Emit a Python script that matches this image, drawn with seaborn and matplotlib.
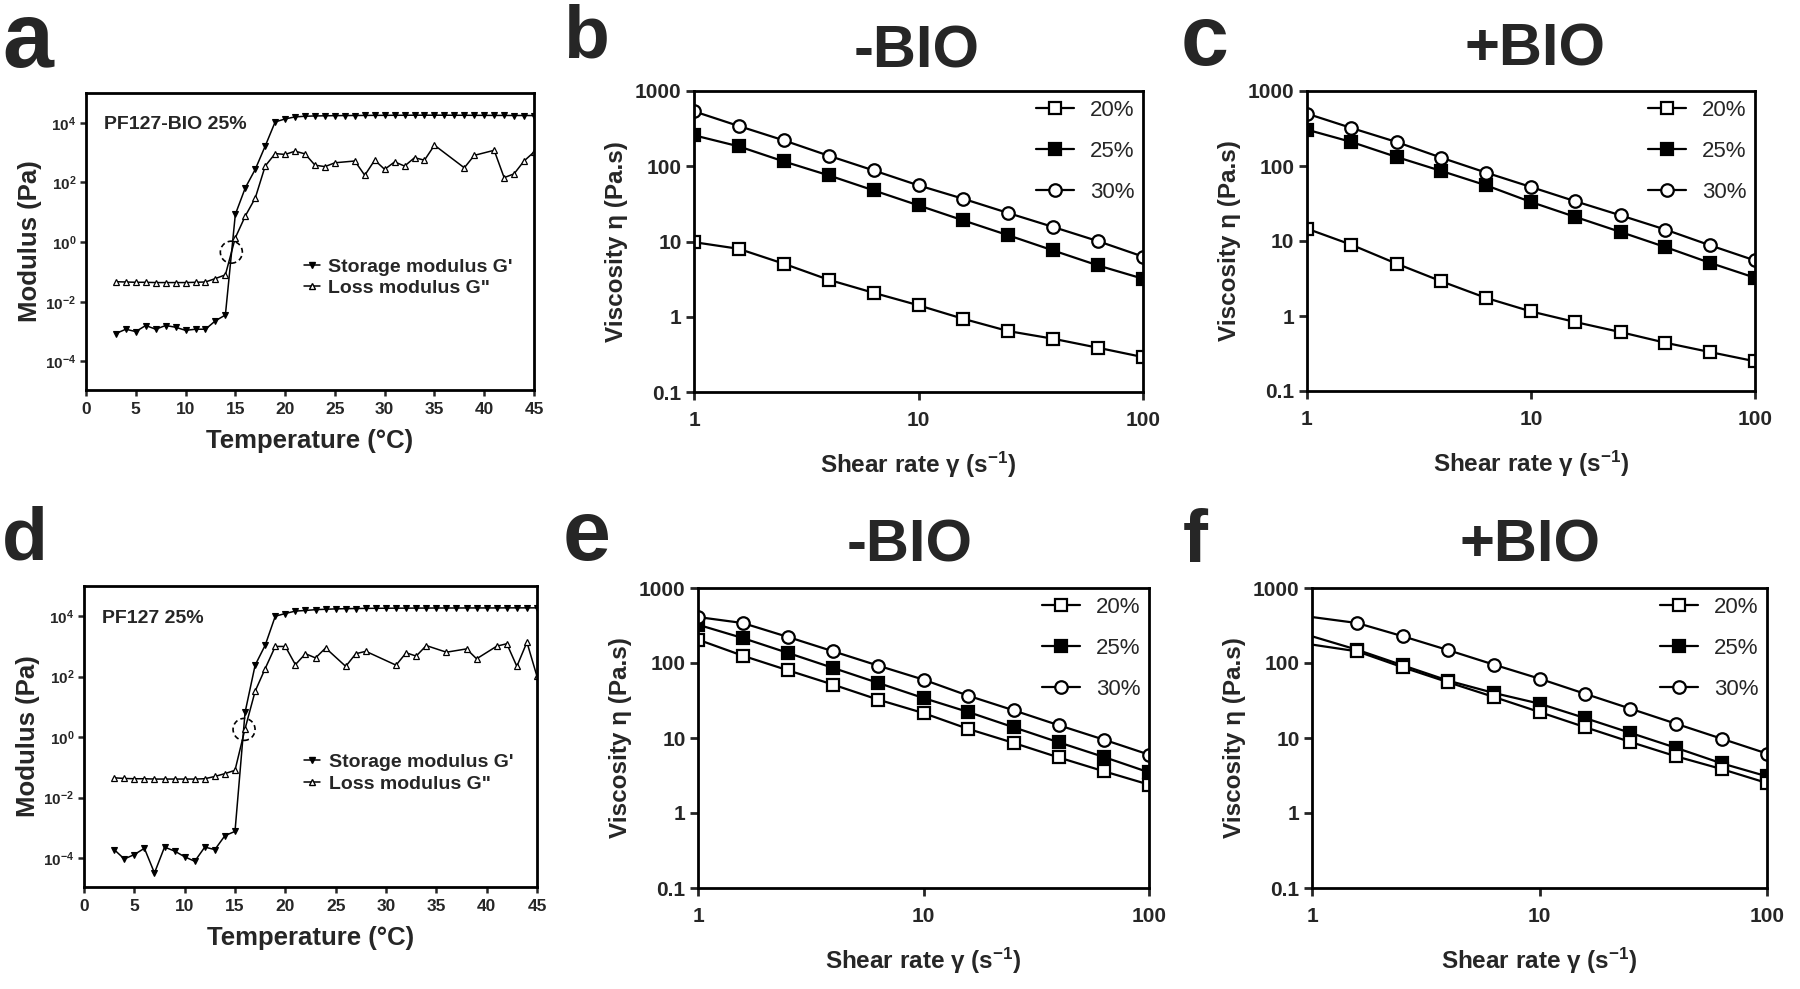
import numpy as np
import matplotlib
matplotlib.use("Agg")
import matplotlib.pyplot as plt
import matplotlib.transforms as mtransforms
from matplotlib.patches import Circle
from matplotlib.lines import Line2D
import seaborn as sns

sns.set_theme(style="ticks")
plt.rcParams["font.family"] = ["Liberation Sans", "DejaVu Sans"]
plt.rcParams["font.weight"] = "bold"
plt.rcParams["mathtext.fontset"] = "custom"
plt.rcParams["mathtext.rm"] = "Liberation Sans"
plt.rcParams["mathtext.bf"] = "Liberation Sans:bold"
plt.rcParams["mathtext.it"] = "Liberation Sans:italic"

# ---------------- data: temperature sweeps (a, d) ----------------
temp_storage = list(range(3, 46))
storage_a = [8.6e-4, 1.2e-3, 1.0e-3, 1.6e-3, 1.2e-3, 1.6e-3, 1.4e-3, 1.1e-3, 1.2e-3, 1.2e-3,
             2.3e-3, 3.6e-3, 8.5, 66, 275, 1660, 10700, 13500, 15800, 16600,
             17000, 17200, 17400, 17500, 17600, 17700, 17800, 17800, 17900, 17900, 18000, 18000,
             18000, 18000, 17900, 17900, 17800, 17800, 17700, 17700, 17600, 17600, 17500]
temp_loss_a = list(range(3, 26)) + list(range(27, 36)) + [38, 39, 41, 42, 43, 44, 45]
loss_a = [0.047, 0.046, 0.045, 0.045, 0.044, 0.044, 0.044, 0.044, 0.045, 0.046,
          0.060, 0.080, 1.4, 7.5, 30, 355, 930, 870, 1120, 910, 380, 340, 457,
          525, 174, 560, 275, 490, 355, 676, 560, 1780,
          310, 810, 1200, 145, 195, 525, 1050]

storage_d = [1.9e-4, 9.3e-5, 1.3e-4, 2.1e-4, 3.2e-5, 2.3e-4, 1.7e-4, 1.1e-4, 7.8e-5, 2.3e-4,
             1.9e-4, 5.5e-4, 7.6e-4, 6.6, 240, 1100, 10000, 12300, 14800, 15500,
             16500, 17000, 17500, 17800, 18000, 18200, 18300, 18400, 18500, 18500, 18600, 18600,
             18700, 18700, 18700, 18800, 18800, 18800, 18800, 18900, 18900, 18900, 18900]
temp_loss_d = list(range(3, 25)) + [26, 27, 28, 31, 32, 33, 34, 36, 38, 39, 41, 42, 43, 44, 45]
loss_d = [0.045, 0.043, 0.042, 0.042, 0.041, 0.041, 0.041, 0.041, 0.041, 0.042,
          0.050, 0.062, 0.080, 1.9, 33, 186, 1000, 1000, 250, 575, 417, 890,
          219, 575, 690, 240, 617, 480, 1070, 645, 830, 390, 1020, 1230, 219, 1380, 102]

crossover_a = (14.6, 0.46)
crossover_d = (15.9, 1.8)

# ---------------- data: viscosity (b, c, e, f) ----------------
shear = [1, 1.58, 2.51, 3.98, 6.31, 10, 15.8, 25.1, 39.8, 63.1, 100]
conc_labels = ["20%", "25%", "30%"]

b_20 = [9.8, 8.0, 5.07, 3.1, 2.08, 1.42, 0.94, 0.645, 0.51, 0.387, 0.291]
b_25 = [258, 184, 116, 75.7, 47.8, 30.2, 19.1, 12.1, 7.6, 4.8, 3.2]
b_30 = [537, 343, 221, 138, 88, 55.7, 37, 23.9, 15.6, 10.1, 6.3]

c_20 = [14.6, 8.9, 4.99, 2.9, 1.74, 1.15, 0.83, 0.61, 0.44, 0.33, 0.249]
c_25 = [305, 209, 132, 85.8, 55.2, 33.1, 20.9, 13.2, 8.3, 5.1, 3.24]
c_30 = [499, 321, 209, 129, 81.5, 52.5, 33.8, 22, 14.2, 8.75, 5.5]

e_20 = [205, 125, 79.8, 51.4, 32.4, 21.5, 13.2, 8.6, 5.5, 3.6, 2.39]
e_25 = [324, 215, 136, 85.8, 54.1, 34.1, 22.2, 13.9, 8.75, 5.58, 3.48]
e_30 = [410, 341, 222, 143, 92, 60, 36.6, 23.4, 14.8, 9.5, 6.0]

f_20 = [176, 143, 87.5, 55.2, 35.2, 22.2, 14.0, 8.85, 5.7, 3.86, 2.51]
f_25 = [227, 150, 93, 58, 39.8, 28.7, 18.5, 11.7, 7.4, 4.6, 3.08]
f_30 = [410, 341, 227, 148, 95, 61.8, 39, 24.6, 15.5, 9.8, 6.2]

visc_yticks = [0.1, 1, 10, 100, 1000]
visc_yticklabels = ["0.1", "1", "10", "100", "1000"]
visc_xticks = [1, 10, 100]
visc_xticklabels = ["1", "10", "100"]
mod_yticks = [1e-4, 1e-2, 1e0, 1e2, 1e4]
mod_yticklabels = [r"$\mathbf{10^{-4}}$", r"$\mathbf{10^{-2}}$", r"$\mathbf{10^{0}}$",
                   r"$\mathbf{10^{2}}$", r"$\mathbf{10^{4}}$"]
temp_ticks = list(range(0, 50, 5))

# ---------------- layout ----------------
W, H = 1800, 989
fig = plt.figure(figsize=(W / 100, H / 100), dpi=100)


def rect(l, r, t, b):
    return [l / W, 1 - b / H, (r - l) / W, (b - t) / H]


ax_a = fig.add_axes(rect(86, 534, 93, 390))
ax_b = fig.add_axes(rect(694, 1143, 91, 392))
ax_c = fig.add_axes(rect(1307, 1755, 91, 391))
ax_d = fig.add_axes(rect(84, 537, 586, 887))
ax_e = fig.add_axes(rect(698, 1149, 588, 888))
ax_f = fig.add_axes(rect(1312, 1767, 588, 888))


def style_box(ax):
    for s in ax.spines.values():
        s.set_visible(True)
        s.set_linewidth(2.0)
        s.set_color("black")


def modulus_panel(ax, storage, tl, loss, tag, cross):
    ax.set_yscale("log")
    sns.lineplot(x=temp_storage, y=storage, ax=ax, color="black", linewidth=1.1,
                 marker="v", markersize=5, markerfacecolor="black",
                 markeredgecolor="black", markeredgewidth=0.8, legend=False)
    sns.lineplot(x=tl, y=loss, ax=ax, color="black", linewidth=1.1,
                 marker="^", markersize=5, markerfacecolor="white",
                 markeredgecolor="black", markeredgewidth=0.9, legend=False)
    ax.set_xlim(0, 45)
    ax.set_ylim(1.1e-5, 1e5)
    ax.set_xticks(temp_ticks)
    ax.set_xticklabels([str(t) for t in temp_ticks])
    ax.set_yticks(mod_yticks)
    ax.set_yticklabels(mod_yticklabels)
    ax.yaxis.set_minor_locator(matplotlib.ticker.NullLocator())
    ax.tick_params(axis="x", direction="out", length=4.5, width=1.8, labelsize=12.5, pad=4)
    ax.tick_params(axis="y", direction="out", length=4, width=1.8, labelsize=11, pad=3)
    ax.set_xlabel("Temperature (°C)", fontsize=18.5, fontweight="bold", labelpad=9)
    ax.set_ylabel("Modulus (Pa)", fontsize=18.5, fontweight="bold", labelpad=2)
    style_box(ax)
    ax.text(0.04, 0.893, tag, transform=ax.transAxes, fontsize=14, fontweight="bold",
            va="center", ha="left")
    trans = fig.dpi_scale_trans + mtransforms.ScaledTranslation(cross[0], cross[1], ax.transData)
    ax.add_artist(Circle((0, 0), radius=0.11, transform=trans, fill=False, ec="black",
                         lw=1.2, ls=(0, (3, 2)), clip_on=False))
    handles = [
        Line2D([], [], color="black", lw=1.1, marker="v", markersize=5, mfc="black", mec="black"),
        Line2D([], [], color="black", lw=1.1, marker="^", markersize=5, mfc="white", mec="black"),
    ]
    ax.legend(handles, ["Storage modulus G'", 'Loss modulus G"'], loc="center left",
              bbox_to_anchor=(0.465, 0.378), frameon=False, handlelength=0.8,
              handletextpad=0.45, labelspacing=0.2, borderpad=0.0,
              prop={"weight": "bold", "size": 14})


def viscosity_panel(ax, s20, s25, s30, skip_first=False):
    ax.set_xscale("log")
    ax.set_yscale("log")
    mk = dict(markevery=list(range(1, len(shear)))) if skip_first else {}
    specs = {"20%": (s20, "s", "white"), "25%": (s25, "s", "black"), "30%": (s30, "o", "white")}
    # draw 25% first so that open 20% squares sit on top where the curves overlap
    for key in ["25%", "20%", "30%"]:
        vals, m, fc = specs[key]
        sns.lineplot(x=shear, y=vals, ax=ax, color="black", linewidth=1.6, marker=m,
                     markersize=9, markerfacecolor=fc, markeredgecolor="black",
                     markeredgewidth=1.6, legend=False, **mk)
    ax.set_xlim(1, 100)
    ax.set_ylim(0.1, 1000)
    ax.set_xticks(visc_xticks)
    ax.set_xticklabels(visc_xticklabels)
    ax.set_yticks(visc_yticks)
    ax.set_yticklabels(visc_yticklabels)
    ax.xaxis.set_minor_locator(matplotlib.ticker.NullLocator())
    ax.yaxis.set_minor_locator(matplotlib.ticker.NullLocator())
    ax.tick_params(axis="x", direction="out", length=6, width=2, labelsize=15, pad=8)
    ax.tick_params(axis="y", direction="out", length=6, width=2, labelsize=15, pad=3)
    ax.set_xlabel(r"Shear rate γ ($\mathbf{s^{-1}}$)", fontsize=17.5, fontweight="bold", labelpad=14)
    ax.set_ylabel("Viscosity η (Pa.s)", fontsize=17.5, fontweight="bold", labelpad=5)
    style_box(ax)
    handles = [Line2D([], [], color="black", lw=1.6, marker=specs[k][1], markersize=9,
                      mfc=specs[k][2], mec="black", mew=1.6) for k in conc_labels]
    ax.legend(handles, conc_labels, loc="upper right", frameon=False,
              handlelength=1.7, handletextpad=0.7, labelspacing=0.9, borderaxespad=0.1,
              borderpad=0.3, prop={"weight": "normal", "size": 16})


modulus_panel(ax_a, storage_a, temp_loss_a, loss_a, "PF127-BIO 25%", crossover_a)
modulus_panel(ax_d, storage_d, temp_loss_d, loss_d, "PF127 25%", crossover_d)
viscosity_panel(ax_b, b_20, b_25, b_30)
viscosity_panel(ax_c, c_20, c_25, c_30)
viscosity_panel(ax_e, e_20, e_25, e_30)
viscosity_panel(ax_f, f_20, f_25, f_30, skip_first=True)

# titles
for x, yb, t in [(917, 67, "-BIO"), (1535, 65, "+BIO"), (910, 562, "-BIO"), (1530, 562, "+BIO")]:
    fig.text(x / W, 1 - yb / H, t, ha="center", va="baseline", fontsize=43, fontweight="bold")

# panel letters
for x, yb, t, fs in [(2, 67, "a", 66), (563, 57, "b", 54), (1181, 65, "c", 62),
                     (2, 559, "d", 54), (563, 560, "e", 62), (1183, 562, "f", 54)]:
    fig.text(x / W, 1 - yb / H, t, ha="left", va="baseline", fontsize=fs, fontweight="bold")

fig.savefig("out.png", dpi=100, facecolor="white")
